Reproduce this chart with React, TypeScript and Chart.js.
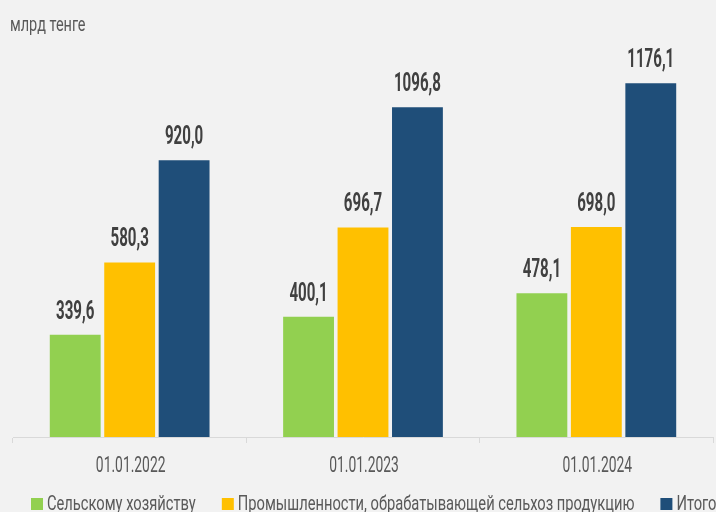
import React, { useEffect, useRef } from "react";
import { Chart, registerables } from "chart.js";

Chart.register(...registerables);

const categories = ["01.01.2022", "01.01.2023", "01.01.2024"];
const seriesNames = [
  "Сельскому хозяйству",
  "Промышленности, обрабатывающей сельхоз продукцию",
  "Итого",
];
const agriculture = [339.6, 400.1, 478.1];
const industry = [580.3, 696.7, 698.0];
const total = [920.0, 1096.8, 1176.1];
const colors = ["#92d050", "#ffc000", "#1f4e79"];
const unitLabel = "млрд тенге";

const FONT = "Roboto, 'DejaVu Sans', sans-serif";

const fmt = (v: number) => v.toFixed(1).replace(".", ",");

function drawCondensed(
  ctx: CanvasRenderingContext2D,
  text: string,
  x: number,
  y: number,
  sx: number,
  align: CanvasTextAlign
) {
  ctx.save();
  ctx.translate(x, y);
  ctx.scale(sx, 1);
  ctx.textAlign = align;
  ctx.fillText(text, 0, 0);
  ctx.restore();
}

const customText = {
  id: "customText",
  afterDraw(chart: any) {
    const ctx: CanvasRenderingContext2D = chart.ctx;
    ctx.save();
    ctx.textBaseline = "alphabetic";

    // unit title
    ctx.font = `21px ${FONT}`;
    ctx.fillStyle = "#595959";
    drawCondensed(ctx, unitLabel, 10, 31, 0.69, "left");

    // value labels
    ctx.font = `bold 26px ${FONT}`;
    ctx.fillStyle = "#404040";
    chart.data.datasets.forEach((ds: any, i: number) => {
      const meta = chart.getDatasetMeta(i);
      meta.data.forEach((bar: any, j: number) => {
        drawCondensed(ctx, fmt(ds.data[j]), bar.x, bar.y - 16, 0.58, "center");
      });
    });

    // x tick labels
    const xs = chart.scales.x;
    ctx.font = `22px ${FONT}`;
    ctx.fillStyle = "#595959";
    categories.forEach((c, i) => {
      drawCondensed(ctx, c, xs.getPixelForValue(i) + 1, 472, 0.63, "center");
    });

    // legend
    ctx.font = `21px ${FONT}`;
    const sx = 0.7;
    let x = 31;
    seriesNames.forEach((name, i) => {
      ctx.fillStyle = colors[i];
      ctx.fillRect(x, 498, 12, 12);
      ctx.fillStyle = "#595959";
      const tx = x + 16;
      drawCondensed(ctx, name, tx, 510, sx, "left");
      x = tx + ctx.measureText(name).width * sx + 26;
    });
    ctx.restore();
  },
};

export default function App() {
  const ref = useRef<HTMLCanvasElement>(null);
  useEffect(() => {
    if (!ref.current) return;
    const chart = new Chart(ref.current, {
      type: "bar",
      data: {
        labels: categories,
        datasets: [agriculture, industry, total].map((d, i) => ({
          label: seriesNames[i],
          data: d,
          backgroundColor: colors[i],
          borderWidth: 0,
          categoryPercentage: 0.7,
          barPercentage: 0.934,
        })),
      },
      options: {
        responsive: false,
        animation: false,
        layout: { padding: { left: 13, right: 3, top: 40, bottom: 69 } },
        plugins: {
          title: { display: false },
          legend: { display: false },
          tooltip: { enabled: false },
        },
        scales: {
          x: {
            grid: {
              display: true,
              drawOnChartArea: false,
              drawTicks: true,
              tickLength: 6,
              color: "#d9d9d9",
              offset: true,
            },
            border: { display: true, color: "#d9d9d9" },
            ticks: { display: false },
          },
          y: {
            display: false,
            min: 0,
            max: 1320,
          },
        },
      },
      plugins: [customText],
    });
    return () => chart.destroy();
  }, []);
  return (
    <div
      style={{
        position: "fixed",
        left: 0,
        top: 0,
        width: 716,
        height: 512,
        background: "#f2f2f2",
      }}
    >
      <canvas ref={ref} width={716} height={512} style={{ display: "block" }} />
    </div>
  );
}
